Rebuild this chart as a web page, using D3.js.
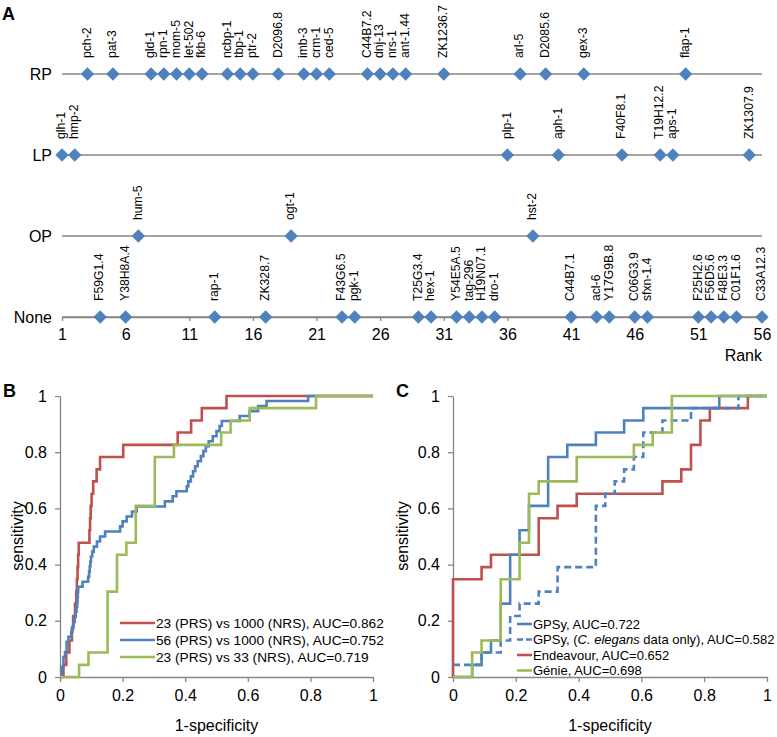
<!DOCTYPE html>
<html><head><meta charset="utf-8">
<script src="https://cdn.jsdelivr.net/npm/d3@7"></script>
<style>
body{margin:0;background:#fff;}
svg{display:block;font-family:"Liberation Sans",Arial,sans-serif;}
</style></head>
<body>
<svg id="chart" width="777" height="737"></svg>
<script>
// ---------- Panel A data ----------
const groups = ["RP", "LP", "OP", "None"];
const rpGenes = ["pch-2","pat-3","gld-1","rpn-1","mom-5","let-502","fkb-6","ncbp-1","tbp-1","ptr-2","D2096.8","imb-3","crm-1","ced-5","C44B7.2","dnj-13","nrs-1","ant-1.44","ZK1236.7","arl-5","D2085.6","gex-3","flap-1"];
const rpRanks = [3,5,8,9,10,11,12,14,15,16,18,20,21,22,25,26,27,28,31,37,39,42,50];
const lpGenes = ["glh-1","hmp-2","plp-1","aph-1","F40F8.1","T19H12.2","aps-1","ZK1307.9"];
const lpRanks = [1,2,36,40,45,48,49,55];
const opGenes = ["hum-5","ogt-1","hst-2"];
const opRanks = [7,19,38];
const noneGenes = ["F59G1.4","Y38H8A.4","rap-1","ZK328.7","F43G6.5","pgk-1","T25G3.4","hex-1","Y54E5A.5","tag-296","H19N07.1","dro-1","C44B7.1","acl-6","Y17G9B.8","C06G3.9","sfxn-1.4","F25H2.6","F56D5.6","F48E3.3","C01F1.6","C33A12.3"];
const noneRanks = [4,6,13,17,23,24,29,30,32,33,34,35,41,43,44,46,47,51,52,53,54,56];
const rankTicks = [1,6,11,16,21,26,31,36,41,46,51,56];

// ---------- Panel B data (1-specificity, sensitivity) step points ----------
const rocTicks = [0,0.2,0.4,0.6,0.8,1];
const bLabels = ["23 (PRS) vs 1000 (NRS), AUC=0.862","56 (PRS) vs 1000 (NRS), AUC=0.752","23 (PRS) vs 33 (NRS), AUC=0.719"];
const bRed = [[0,0],[0.011,0.043],[0.02,0.087],[0.03,0.13],[0.038,0.174],[0.042,0.217],[0.048,0.261],[0.052,0.304],[0.054,0.348],[0.056,0.391],[0.058,0.435],[0.06,0.478],[0.094,0.522],[0.096,0.565],[0.098,0.609],[0.101,0.652],[0.106,0.696],[0.117,0.739],[0.128,0.783],[0.202,0.826],[0.376,0.870],[0.419,0.913],[0.453,0.957],[0.532,1],[1,1]];
const bBlue = [[0,0],[0.005,0.036],[0.011,0.071],[0.016,0.089],[0.021,0.125],[0.027,0.143],[0.036,0.161],[0.04,0.179],[0.043,0.196],[0.047,0.214],[0.05,0.232],[0.053,0.25],[0.055,0.268],[0.056,0.286],[0.057,0.304],[0.058,0.321],[0.072,0.339],[0.09,0.357],[0.093,0.375],[0.095,0.393],[0.097,0.411],[0.099,0.429],[0.103,0.446],[0.108,0.464],[0.118,0.482],[0.128,0.5],[0.144,0.518],[0.192,0.536],[0.2,0.554],[0.213,0.571],[0.23,0.589],[0.245,0.607],[0.335,0.625],[0.36,0.643],[0.372,0.661],[0.405,0.679],[0.41,0.696],[0.418,0.714],[0.425,0.732],[0.432,0.75],[0.44,0.768],[0.45,0.786],[0.458,0.804],[0.466,0.821],[0.475,0.839],[0.488,0.857],[0.5,0.875],[0.51,0.893],[0.517,0.911],[0.574,0.929],[0.606,0.946],[0.633,0.964],[0.66,0.982],[0.793,1],[1,1]];
const bGreen = [[0,0],[0.061,0.043],[0.091,0.087],[0.152,0.304],[0.182,0.435],[0.212,0.478],[0.242,0.609],[0.303,0.783],[0.364,0.826],[0.515,0.870],[0.545,0.913],[0.606,0.957],[0.818,1],[1,1]];

// ---------- Panel C data ----------
const cLabels = ["GPSy, AUC=0.722","GPSy, (C. elegans data only), AUC=0.582","Endeavour, AUC=0.652","Génie, AUC=0.698"];
const cGpsy = [[0,0],[0.061,0.043],[0.091,0.087],[0.121,0.13],[0.152,0.261],[0.182,0.435],[0.212,0.522],[0.242,0.609],[0.303,0.783],[0.364,0.826],[0.455,0.870],[0.545,0.913],[0.606,0.957],[0.848,1],[1,1]];
const cGpsyCe = [[0,0.043],[0.091,0.087],[0.152,0.13],[0.182,0.217],[0.212,0.261],[0.273,0.304],[0.333,0.391],[0.455,0.609],[0.485,0.652],[0.515,0.696],[0.545,0.739],[0.576,0.783],[0.606,0.870],[0.667,0.913],[0.758,0.957],[0.909,1],[1,1]];
const cEndeavour = [[0,0],[0,0.348],[0.091,0.391],[0.121,0.435],[0.273,0.565],[0.333,0.609],[0.394,0.652],[0.667,0.696],[0.727,0.739],[0.758,0.826],[0.788,0.913],[0.818,0.957],[0.939,1],[1,1]];
const cGenie = [[0,0],[0.061,0.087],[0.091,0.13],[0.152,0.348],[0.212,0.478],[0.242,0.652],[0.273,0.696],[0.394,0.783],[0.576,0.826],[0.636,0.870],[0.697,1],[1,1]];

// ---------- drawing ----------
const svg = d3.select("#chart");
const GRAY = "#868686", BLUE = "#4F81BD", RED = "#C0504D", GREEN = "#9BBB59";
const FONT = 16;

// Panel A
svg.append("text").attr("x",2).attr("y",20).attr("font-size",18).attr("font-weight","bold").text("A");
const xr = d3.scaleLinear().domain([1,56]).range([62,762]);
const yr = d3.scalePoint().domain(groups).range([74,317]);
const genesByGroup = {RP:[rpGenes,rpRanks], LP:[lpGenes,lpRanks], OP:[opGenes,opRanks], None:[noneGenes,noneRanks]};
const diamond = d3.symbol().type(d3.symbolSquare).size(88);

groups.forEach(g => {
  const y = yr(g);
  svg.append("line").attr("x1",xr(1)).attr("x2",xr(56)).attr("y1",y).attr("y2",y)
    .attr("stroke",GRAY).attr("stroke-width",1.3);
  svg.append("text").attr("x",52).attr("y",y).attr("dy","0.35em").attr("text-anchor","end")
    .attr("font-size",FONT).text(g);
});
// rank axis ticks on None row
const rankAxis = d3.axisBottom(xr).tickValues(rankTicks).tickSize(4).tickSizeOuter(0).tickPadding(8).tickFormat(d3.format("d"));
const ra = svg.append("g").attr("transform",`translate(0,${yr("None")})`).call(rankAxis);
ra.select(".domain").attr("stroke",GRAY).attr("stroke-width",1.3);
ra.selectAll(".tick line").attr("stroke",GRAY).attr("stroke-width",1.3);
ra.selectAll(".tick text").attr("font-size",FONT).attr("fill","#000").attr("font-family","Liberation Sans, Arial, sans-serif");
svg.append("text").attr("x",762).attr("y",361).attr("text-anchor","end").attr("font-size",FONT).text("Rank");

groups.forEach(g => {
  const [names, ranks] = genesByGroup[g];
  const y = yr(g);
  const sel = svg.append("g");
  ranks.forEach((r,i) => {
    sel.append("path").attr("d",diamond).attr("fill",BLUE)
      .attr("transform",`translate(${xr(r)},${y}) rotate(45)`);
    sel.append("text").attr("font-size",12.2)
      .attr("transform",`translate(${xr(r)-1},${y-16}) rotate(-90)`)
      .attr("dy","0.35em").text(names[i]);
  });
});

// ROC panels
function rocPanel(x0, x1, letter, labelX, series, legend) {
  const xs = d3.scaleLinear().domain([0,1]).range([x0,x1]);
  const ys = d3.scaleLinear().domain([0,1]).range([677,396]);
  const g = svg.append("g");
  const ax = g.append("g").attr("transform","translate(0,677)")
    .call(d3.axisBottom(xs).tickValues(rocTicks).tickSize(5).tickSizeOuter(0).tickPadding(8).tickFormat(d3.format("~g")));
  const ay = g.append("g").attr("transform",`translate(${x0},0)`)
    .call(d3.axisLeft(ys).tickValues(rocTicks).tickSize(5).tickSizeOuter(0).tickPadding(8).tickFormat(d3.format("~g")));
  [ax,ay].forEach(a=>{
    a.select(".domain").attr("stroke",GRAY).attr("stroke-width",1.3);
    a.selectAll(".tick line").attr("stroke",GRAY).attr("stroke-width",1.3);
    a.selectAll(".tick text").attr("font-size",FONT).attr("fill","#000").attr("font-family","Liberation Sans, Arial, sans-serif");
  });
  const line = d3.line().x(d=>xs(d[0])).y(d=>ys(d[1])).curve(d3.curveStepAfter);
  series.forEach(s => {
    g.append("path").datum(s.data).attr("d",line).attr("fill","none")
      .attr("stroke",s.color).attr("stroke-width",2.6)
      .attr("stroke-dasharray",s.dash||null).attr("stroke-linejoin","miter");
  });
  svg.append("text").attr("x",x0-57).attr("y",397).attr("font-size",18).attr("font-weight","bold").text(letter);
  svg.append("text").attr("transform",`translate(${labelX},536) rotate(-90)`).attr("text-anchor","middle")
    .attr("dy","0.35em").attr("font-size",FONT).text("sensitivity");
  svg.append("text").attr("x",(x0+x1)/2).attr("y",731).attr("text-anchor","middle")
    .attr("font-size",FONT).text("1-specificity");
  // legend
  legend.items.forEach((it,i) => {
    const y = legend.y0 + i*legend.dy;
    svg.append("line").attr("x1",legend.x).attr("x2",legend.x+legend.len).attr("y1",y).attr("y2",y)
      .attr("stroke",it.color).attr("stroke-width",2.6).attr("stroke-dasharray",it.dash||null);
    const t = svg.append("text").attr("x",legend.x+legend.len+1).attr("y",y).attr("dy","0.35em").attr("font-size",legend.fs);
    it.parts.forEach(p => t.append("tspan").attr("font-style",p.it?"italic":null).text(p.t));
  });
}

rocPanel(60, 373, "B", 17, [
  {data:bRed, color:RED},
  {data:bBlue, color:BLUE},
  {data:bGreen, color:GREEN}
], {x:120, len:35, y0:623, dy:17, fs:13.7, items:[
  {color:RED, parts:[{t:bLabels[0]}]},
  {color:BLUE, parts:[{t:bLabels[1]}]},
  {color:GREEN, parts:[{t:bLabels[2]}]}
]});

const ceParts = cLabels[1].split("C. elegans");
rocPanel(453, 767, "C", 402, [
  {data:cEndeavour, color:RED},
  {data:cGpsyCe, color:BLUE, dash:"7,4"},
  {data:cGpsy, color:BLUE},
  {data:cGenie, color:GREEN}
], {x:517, len:15, y0:624, dy:15.5, fs:13, items:[
  {color:BLUE, parts:[{t:cLabels[0]}]},
  {color:BLUE, dash:"6,3", parts:[{t:ceParts[0]},{t:"C. elegans",it:true},{t:ceParts[1]}]},
  {color:RED, parts:[{t:cLabels[2]}]},
  {color:GREEN, parts:[{t:cLabels[3]}]}
]});
</script>
</body></html>
